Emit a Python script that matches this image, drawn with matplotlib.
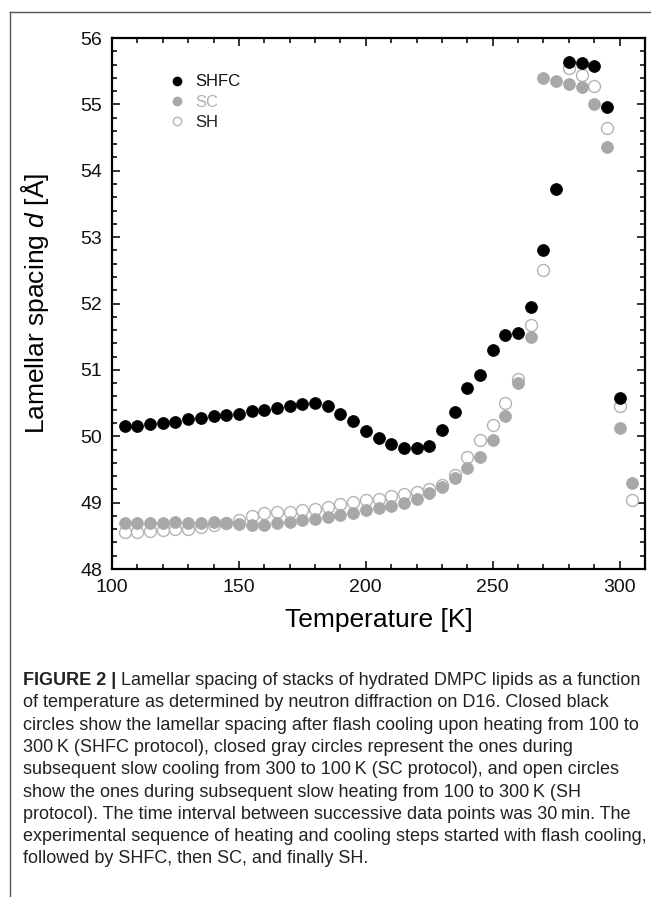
import numpy as np
import matplotlib
matplotlib.use("Agg")
import matplotlib.pyplot as plt
from matplotlib.ticker import MultipleLocator
from matplotlib.lines import Line2D

plt.rcParams['font.family'] = ['Liberation Sans', 'DejaVu Sans']
plt.rcParams['mathtext.fontset'] = 'custom'
plt.rcParams['mathtext.rm'] = 'Liberation Sans'
plt.rcParams['mathtext.it'] = 'Liberation Sans:italic'

# --- data (temperature in K, lamellar spacing in Angstrom) ---
T_shfc = [105, 110, 115, 120, 125, 130, 135, 140, 145, 150,
          155, 160, 165, 170, 175, 180, 185, 190, 195, 200,
          205, 210, 215, 220, 225, 230, 235, 240, 245, 250,
          255, 260, 265, 270, 275, 280, 285, 290, 295, 300]
d_shfc = [50.15, 50.16, 50.19, 50.20, 50.22, 50.26, 50.27, 50.30, 50.32, 50.33,
          50.38, 50.40, 50.42, 50.45, 50.49, 50.50, 50.45, 50.33, 50.23, 50.08,
          49.98, 49.88, 49.83, 49.82, 49.85, 50.09, 50.36, 50.72, 50.93, 51.30,
          51.52, 51.56, 51.94, 52.81, 53.73, 55.64, 55.63, 55.58, 54.96, 50.58]

T_sc = [105, 110, 115, 120, 125, 130, 135, 140, 145, 150,
        155, 160, 165, 170, 175, 180, 185, 190, 195, 200,
        205, 210, 215, 220, 225, 230, 235, 240, 245, 250,
        255, 260, 265, 270, 275, 280, 285, 290, 295, 300, 305]
d_sc = [48.69, 48.69, 48.70, 48.70, 48.71, 48.70, 48.70, 48.71, 48.69, 48.68,
        48.66, 48.66, 48.69, 48.71, 48.74, 48.75, 48.78, 48.81, 48.85, 48.89,
        48.92, 48.95, 49.00, 49.06, 49.15, 49.24, 49.37, 49.52, 49.69, 49.94,
        50.30, 50.80, 51.50, 55.40, 55.35, 55.31, 55.26, 55.01, 54.36, 50.13, 49.29]

T_sh = [105, 110, 115, 120, 125, 130, 135, 140, 145, 150,
        155, 160, 165, 170, 175, 180, 185, 190, 195, 200,
        205, 210, 215, 220, 225, 230, 235, 240, 245, 250,
        255, 260, 265, 270, 280, 285, 290, 295, 300, 305]
d_sh = [48.56, 48.56, 48.58, 48.59, 48.61, 48.60, 48.64, 48.66, 48.70, 48.74,
        48.80, 48.85, 48.86, 48.86, 48.89, 48.91, 48.94, 48.98, 49.01, 49.04,
        49.06, 49.10, 49.13, 49.16, 49.20, 49.27, 49.42, 49.69, 49.95, 50.17,
        50.50, 50.87, 51.68, 52.50, 55.55, 55.44, 55.28, 54.64, 50.45, 49.04]

series_names = ['SHFC', 'SC', 'SH']

caption = [
    "of temperature as determined by neutron diffraction on D16. Closed black",
    "circles show the lamellar spacing after flash cooling upon heating from 100 to",
    "300\u2009K (SHFC protocol), closed gray circles represent the ones during",
    "subsequent slow cooling from 300 to 100\u2009K (SC protocol), and open circles",
    "show the ones during subsequent slow heating from 100 to 300\u2009K (SH",
    "protocol). The time interval between successive data points was 30\u2009min. The",
    "experimental sequence of heating and cooling steps started with flash cooling,",
    "followed by SHFC, then SC, and finally SH.",
]

W, H = 651, 897
fig = plt.figure(figsize=(W / 100, H / 100), dpi=100)
ax = fig.add_axes([112 / W, 1 - 569 / H, 533 / W, 531 / H])

gray = '#a8a8a8'
ring = '#b4b4b4'
ms = 8.6

ax.plot(T_sh, d_sh, 'o', ms=ms, mfc='white', mec=ring, mew=1.0, ls='none')
ax.plot(T_sc, d_sc, 'o', ms=ms, mfc=gray, mec=gray, mew=0.5, ls='none')
ax.plot(T_shfc, d_shfc, 'o', ms=ms, mfc='black', mec='black', mew=0.5, ls='none')

ax.set_xlim(100, 310)
ax.set_ylim(48, 56)
ax.xaxis.set_major_locator(MultipleLocator(50))
ax.xaxis.set_minor_locator(MultipleLocator(10))
ax.yaxis.set_major_locator(MultipleLocator(1))
ax.yaxis.set_minor_locator(MultipleLocator(0.2))
ax.tick_params(which='both', direction='in', top=True, right=True, width=1.2,
               colors='#111111')
ax.tick_params(which='major', length=6, labelsize=14, pad=7)
ax.tick_params(which='minor', length=3.5)
for s in ax.spines.values():
    s.set_linewidth(1.6)

ax.set_xlabel('Temperature [K]', fontsize=19)
ax.xaxis.set_label_coords(0.5, -0.096)
ax.xaxis.label.set_va('center')
ax.set_ylabel(r'Lamellar spacing $d$ [Å]', fontsize=19)
ax.yaxis.set_label_coords(-0.1445, 0.5)
ax.yaxis.label.set_va('center')
ax.yaxis.label.set_ha('center')

handles = [
    Line2D([], [], marker='o', ls='none', ms=6, mfc='black', mec='black'),
    Line2D([], [], marker='o', ls='none', ms=6, mfc=gray, mec=gray),
    Line2D([], [], marker='o', ls='none', ms=6, mfc='white', mec=ring, mew=1.0),
]
leg = ax.legend(handles, series_names, loc='upper left', bbox_to_anchor=(0.091, 0.947),
                frameon=False, fontsize=12, borderpad=0, handlelength=1.0,
                handletextpad=0.6, labelspacing=0.32)
for txt, c in zip(leg.get_texts(), ['#111111', '#b0b0b0', '#222222']):
    txt.set_color(c)

# frame lines around the figure panel
fig.add_artist(Line2D([10 / W, 10 / W], [1 - 12 / H, 0], transform=fig.transFigure,
                      color='#555555', lw=1.0))
fig.add_artist(Line2D([10 / W, 1], [1 - 12 / H, 1 - 12 / H], transform=fig.transFigure,
                      color='#555555', lw=1.0))

# caption
cap_fs = 13.0
base0 = 685
step = 22.3
x0 = 23 / W
t1 = fig.text(x0, 1 - base0 / H, 'FIGURE 2 |', fontsize=cap_fs, fontweight='bold',
              va='baseline', color='#222222')
fig.canvas.draw()
bb = t1.get_window_extent()
fig.text(bb.x1 / W, 1 - base0 / H,
         ' Lamellar spacing of stacks of hydrated DMPC lipids as a function',
         fontsize=cap_fs, va='baseline', color='#222222')
for i, line in enumerate(caption):
    fig.text(x0, 1 - (base0 + step * (i + 1)) / H, line, fontsize=cap_fs,
             va='baseline', color='#222222')

fig.savefig('out.png', dpi=100)
